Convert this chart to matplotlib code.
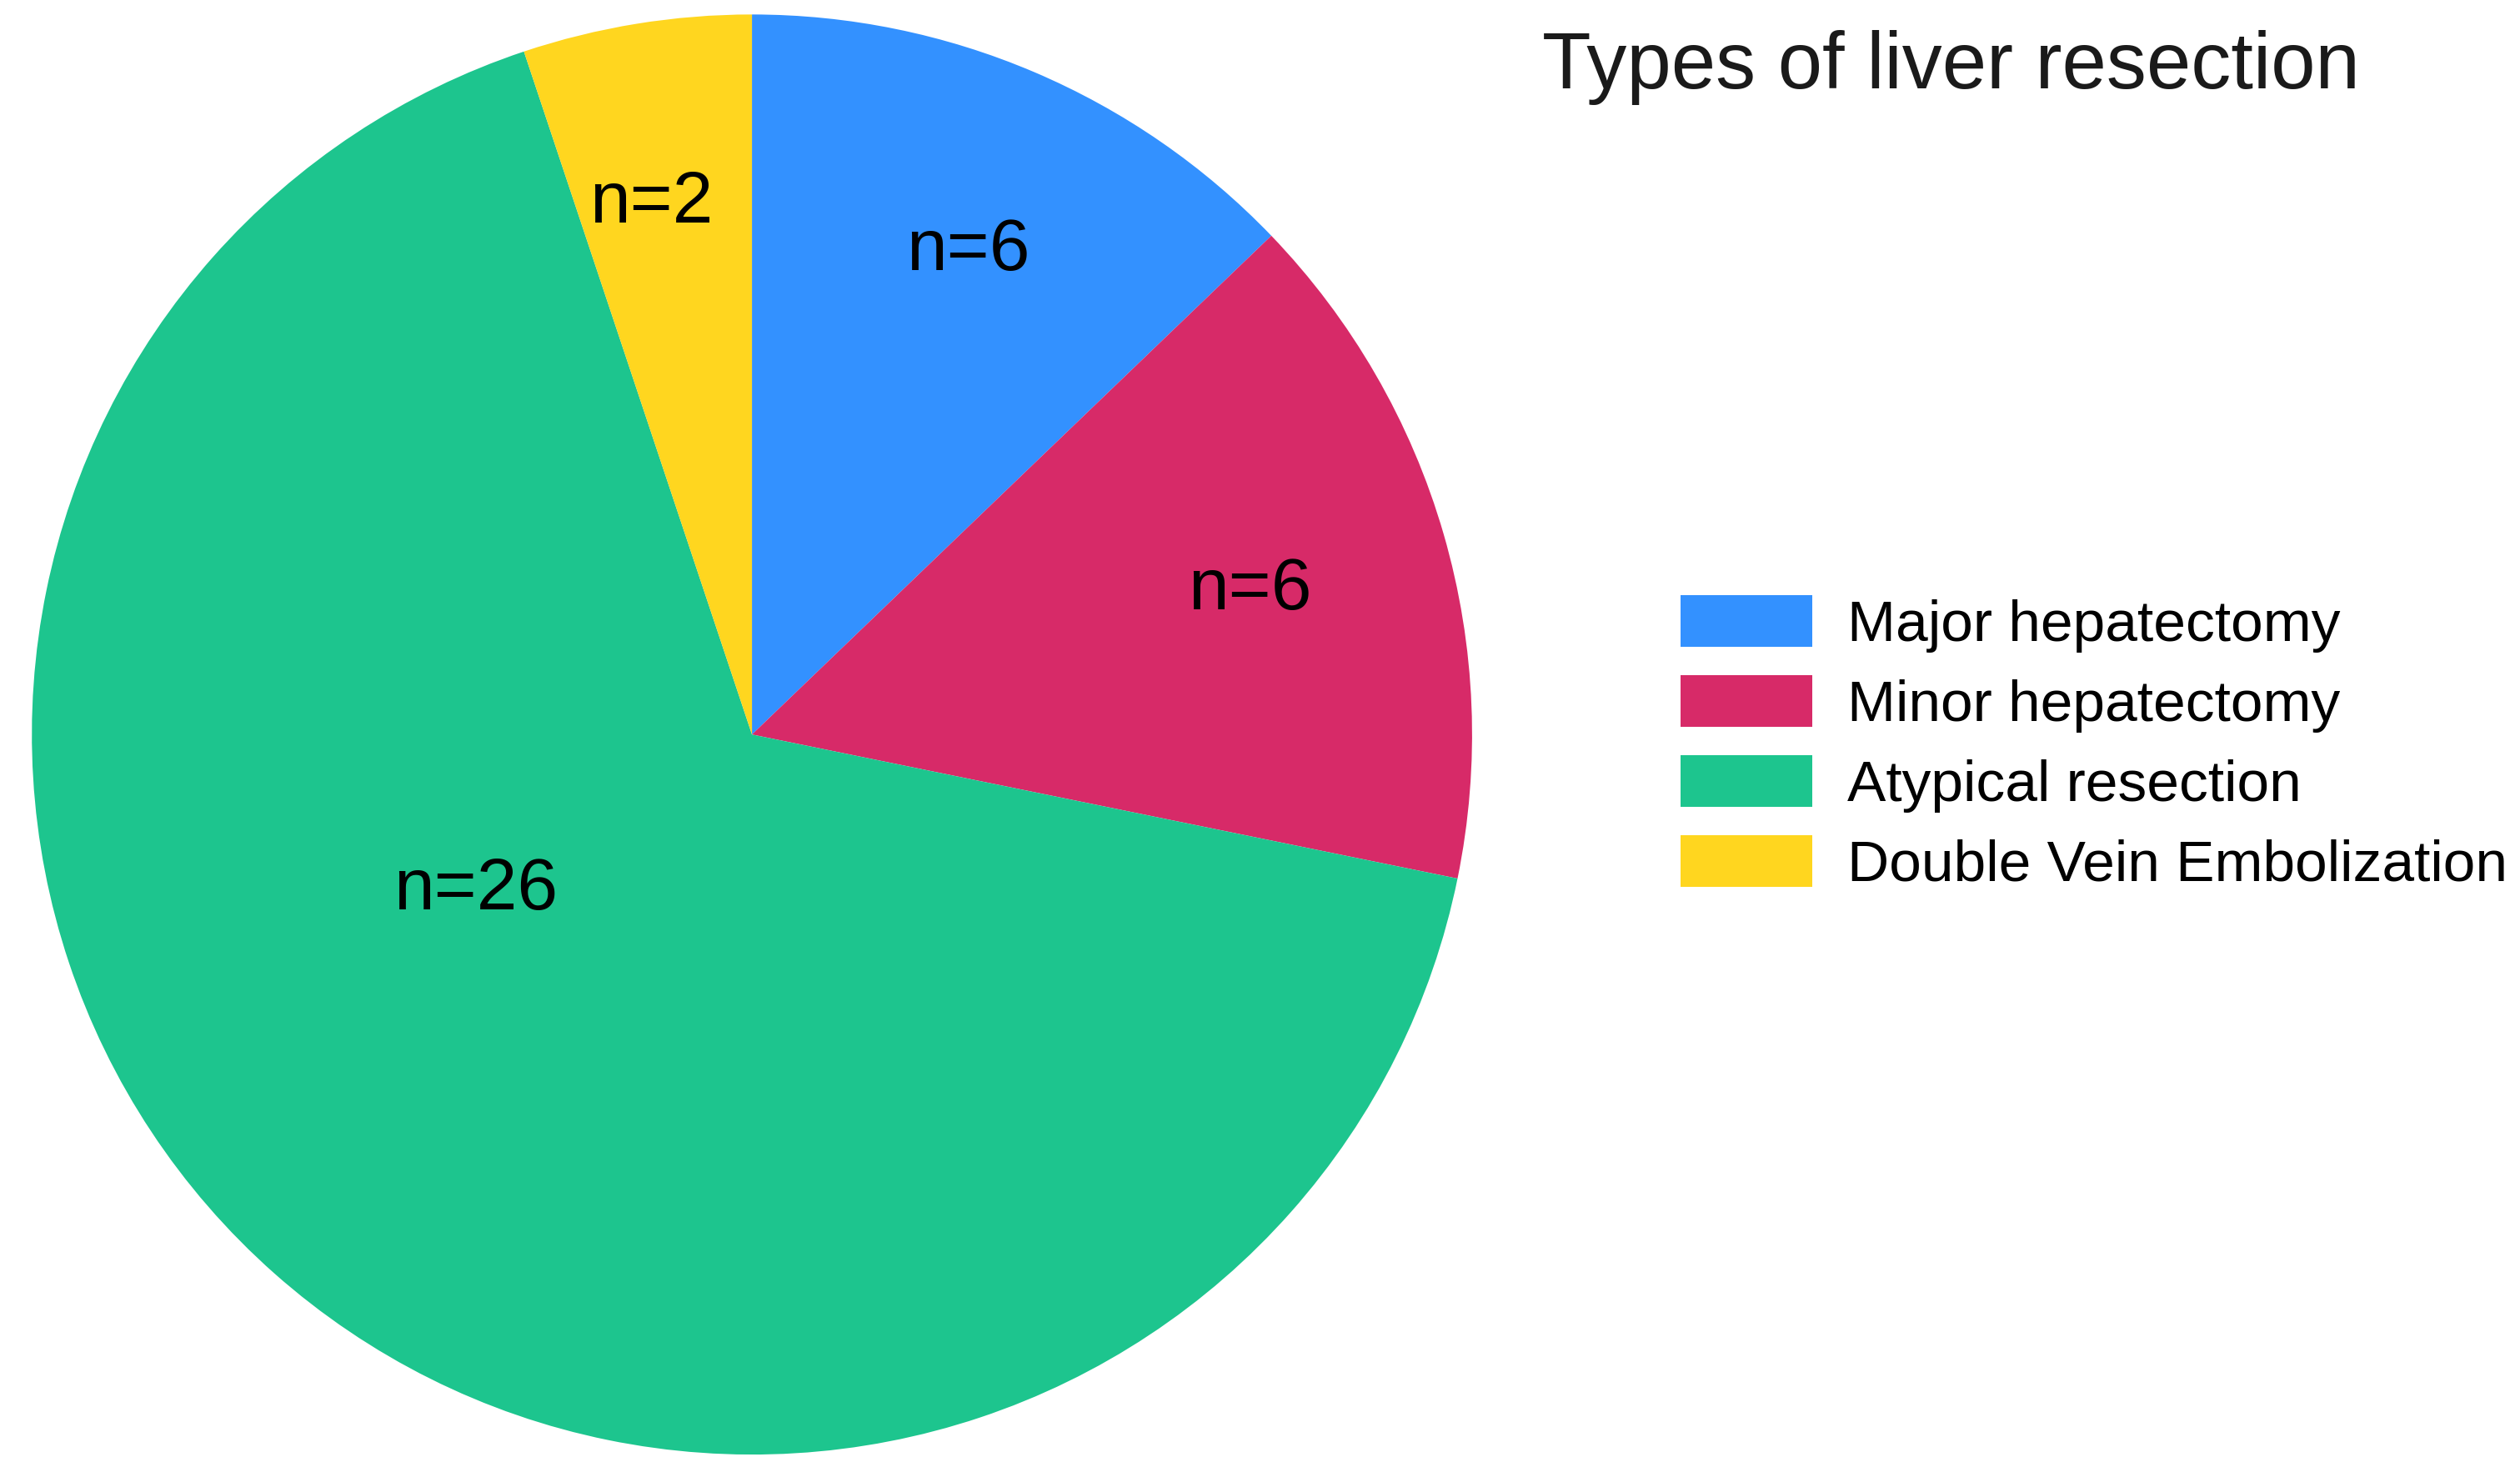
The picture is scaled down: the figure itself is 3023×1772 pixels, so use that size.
import numpy as np
import matplotlib.pyplot as plt

plt.rcParams['font.family'] = ['Liberation Sans', 'DejaVu Sans']

categories = ["Major hepatectomy", "Minor hepatectomy",
              "Atypical resection", "Double Vein Embolization"]
slice_values = [5, 6, 26, 2]
slice_labels = ["n=6", "n=6", "n=26", "n=2"]
colors = ["#3391FF", "#D72A68", "#1DC58E", "#FFD61F"]

# where the labels sit inside each wedge (fraction of radius, angle shift)
label_dist = [0.735, 0.72, 0.44, 0.75]
label_shift = [-1, 0, -19, 1.5]

fig = plt.figure(figsize=(30.23, 17.72), dpi=100)
ax = fig.add_axes([0.0126, 0.0152, 0.5716, 0.975])

wedges, _ = ax.pie(slice_values, colors=colors, startangle=90,
                   counterclock=False, radius=1,
                   wedgeprops=dict(linewidth=0))
ax.set_aspect('equal')
ax.set_xlim(-1, 1)
ax.set_ylim(-1, 1)

for w, lab, d, s in zip(wedges, slice_labels, label_dist, label_shift):
    mid = np.deg2rad((w.theta1 + w.theta2) / 2 + s)
    ax.text(d * np.cos(mid), d * np.sin(mid), lab, ha='center',
            va='center', fontsize=63, color='black')

fig.text(0.612, 0.9795, "Types of liver resection", ha='left', va='top',
         fontsize=69, color='#1a1a1a')

ax.legend(wedges, categories, loc='upper left',
          bbox_to_anchor=(0.667, 0.597), bbox_transform=fig.transFigure,
          frameon=False, fontsize=50, handlelength=2.27, handleheight=1.0,
          handletextpad=0.6, labelspacing=0.39, borderpad=0,
          borderaxespad=0)

fig.savefig("out.png", dpi=100)
